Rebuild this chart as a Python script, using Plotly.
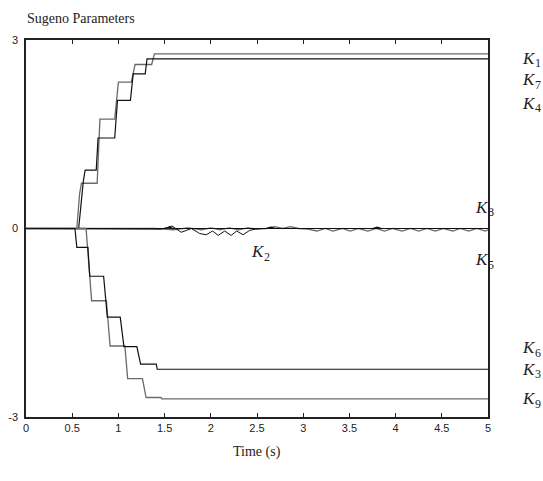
import plotly.graph_objects as go

# ---------------- data ----------------
t_k1 = [0, 0.55, 0.58, 0.60, 0.77, 0.80, 0.96, 1.00, 1.14, 1.18, 1.36, 1.39, 5.0]
v_k1 = [0, 0.00, 0.55, 0.72, 0.72, 1.74, 1.74, 2.33, 2.33, 2.61, 2.61, 2.78, 2.78]

t_k7 = [0, 0.57, 0.62, 0.64, 0.76, 0.78, 0.96, 0.99, 1.13, 1.16, 1.29, 1.31, 5.0]
v_k7 = [0, 0.00, 0.75, 0.93, 0.93, 1.44, 1.44, 2.04, 2.04, 2.46, 2.46, 2.70, 2.70]

t_k3 = [0, 0.53, 0.55, 0.67, 0.69, 0.84, 0.88, 1.02, 1.06, 1.20, 1.24, 1.41, 1.42, 5.0]
v_k3 = [0, 0.00, -0.30, -0.30, -0.76, -0.76, -1.41, -1.41, -1.88, -1.88, -2.16, -2.16, -2.24, -2.24]

t_k9 = [0, 0.65, 0.69, 0.71, 0.87, 0.91, 1.07, 1.10, 1.26, 1.30, 1.46, 1.47, 5.0]
v_k9 = [0, 0.00, -0.76, -1.15, -1.15, -1.87, -1.87, -2.39, -2.39, -2.69, -2.69, -2.71, -2.71]

t_k2 = [0, 1.35, 1.45, 1.52, 1.58, 1.68, 1.79, 1.88, 1.95, 2.02, 2.08, 2.15, 2.22, 2.28, 2.35, 2.42, 2.48, 2.55, 5.0]
v_k2 = [0, 0.00, -0.01, 0.01, 0.04, -0.06, 0.00, -0.08, -0.10, -0.04, -0.11, -0.04, -0.11, -0.04, -0.10, -0.03, -0.01, 0.00, 0.00]

t_k5 = [0, 1.40, 1.60, 1.75, 1.90, 2.00, 2.10, 2.20, 2.30, 2.40, 2.50, 2.60, 2.69, 2.78, 2.86, 2.95, 3.05,
        3.15, 3.24, 3.32, 3.42, 3.51, 3.60, 3.70, 3.79, 3.88, 3.97, 4.07, 4.16, 4.25, 4.34, 4.43, 4.52,
        4.62, 4.70, 4.79, 4.88, 4.97, 5.0]
v_k5 = [0, 0.00, -0.02, 0.01, -0.02, 0.01, -0.02, 0.01, -0.02, 0.01, -0.01, 0.00, 0.03, 0.00, 0.03, 0.00, -0.01,
        -0.04, 0.00, -0.04, 0.00, -0.04, 0.00, -0.04, 0.00, -0.04, 0.00, -0.04, 0.00, -0.04, 0.00, -0.04, 0.00,
        -0.04, 0.00, -0.04, 0.00, -0.04, -0.02]

t_k8 = [0, 1.50, 1.55, 1.60, 2.60, 2.65, 2.70, 3.75, 3.80, 3.85, 5.0]
v_k8 = [0, 0.00, 0.02, 0.00, 0.00, 0.02, 0.00, 0.00, 0.02, 0.00, 0.00]

t_k4 = [0, 5.0]
v_k4 = [0, 0]
t_k6 = [0, 5.0]
v_k6 = [0, 0]

x_ticks = [0, 0.5, 1, 1.5, 2, 2.5, 3, 3.5, 4, 4.5, 5]
x_tick_labels = ["0", "0.5", "1", "1.5", "2", "2.5", "3", "3.5", "4", "4.5", "5"]
y_ticks = [-3, 0, 3]
y_tick_labels = ["-3", "0", "3"]

label_names = ["K1", "K7", "K4", "K8", "K2", "K5", "K6", "K3", "K9"]
label_x = [5.35, 5.35, 5.35, 4.84, 2.41, 4.84, 5.35, 5.35, 5.35]
label_y = [2.71, 2.37, 1.99, 0.34, -0.37, -0.50, -1.90, -2.24, -2.71]

X_RANGE = [0, 5]
Y_RANGE = [-3, 3]

# ---------------- figure ----------------
BLACK = "#111111"
GRAY = "#6a6a6a"
SERIF = "Liberation Serif, Times New Roman, serif"

series = [
    (t_k4, v_k4, BLACK, 1.2),
    (t_k6, v_k6, BLACK, 1.2),
    (t_k5, v_k5, GRAY, 1.3),
    (t_k2, v_k2, BLACK, 1.0),
    (t_k8, v_k8, BLACK, 1.2),
    (t_k1, v_k1, GRAY, 1.3),
    (t_k7, v_k7, BLACK, 1.2),
    (t_k9, v_k9, GRAY, 1.3),
    (t_k3, v_k3, BLACK, 1.2),
]

fig = go.Figure()
for tx, vy, col, w in series:
    fig.add_trace(go.Scatter(x=tx, y=vy, mode="lines",
                             line=dict(color=col, width=w), showlegend=False,
                             hoverinfo="skip"))

# labels: placed in paper coordinates (converted from the data-axis values) so they
# may sit outside the plotting area; the subscript is a separate small text
for name, lx, ly in zip(label_names, label_x, label_y):
    px = (lx - X_RANGE[0]) / (X_RANGE[1] - X_RANGE[0])
    py = (ly - Y_RANGE[0]) / (Y_RANGE[1] - Y_RANGE[0])
    fig.add_annotation(x=px, y=py, xref="paper", yref="paper",
                       text="<i>K</i>", showarrow=False,
                       xanchor="left", yanchor="middle",
                       font=dict(family=SERIF, size=17, color="#222222"))
    fig.add_annotation(x=px, y=py, xref="paper", yref="paper", xshift=13, yshift=-5,
                       text=name[1:], showarrow=False,
                       xanchor="left", yanchor="middle",
                       font=dict(family=SERIF, size=12, color="#222222"))

fig.add_annotation(x=0, y=1, xref="paper", yref="paper", xshift=-1, yshift=22,
                   text="Sugeno Parameters", showarrow=False,
                   xanchor="left", yanchor="middle",
                   font=dict(family=SERIF, size=14, color="#222222"))
fig.add_annotation(x=0.5, y=0, xref="paper", yref="paper", yshift=-35,
                   text="Time (s)", showarrow=False,
                   xanchor="center", yanchor="middle",
                   font=dict(family=SERIF, size=14, color="#222222"))

axis_font = dict(family="Liberation Sans, Arial, sans-serif", size=11, color="#222222")
fig.update_layout(
    width=543, height=481,
    margin=dict(l=26, r=55, t=40, b=64),
    paper_bgcolor="white", plot_bgcolor="white",
    xaxis=dict(range=X_RANGE, tickmode="array", tickvals=x_ticks, ticktext=x_tick_labels,
               ticks="inside", ticklen=4, tickcolor="#222222", tickwidth=1,
               showline=True, linecolor="#222222", linewidth=1.5, mirror="allticks",
               showgrid=False, zeroline=False, tickfont=axis_font, automargin=False),
    yaxis=dict(range=Y_RANGE, tickmode="array", tickvals=y_ticks, ticktext=y_tick_labels,
               ticks="", showline=True, linecolor="#222222", linewidth=1.5, mirror=True,
               showgrid=False, zeroline=False, tickfont=axis_font, ticklabelstandoff=4,
               automargin=False),
)

fig.write_html("out.html",
               config={"displayModeBar": False},
               post_script="document.body.style.margin='0';document.body.style.overflow='hidden';")
